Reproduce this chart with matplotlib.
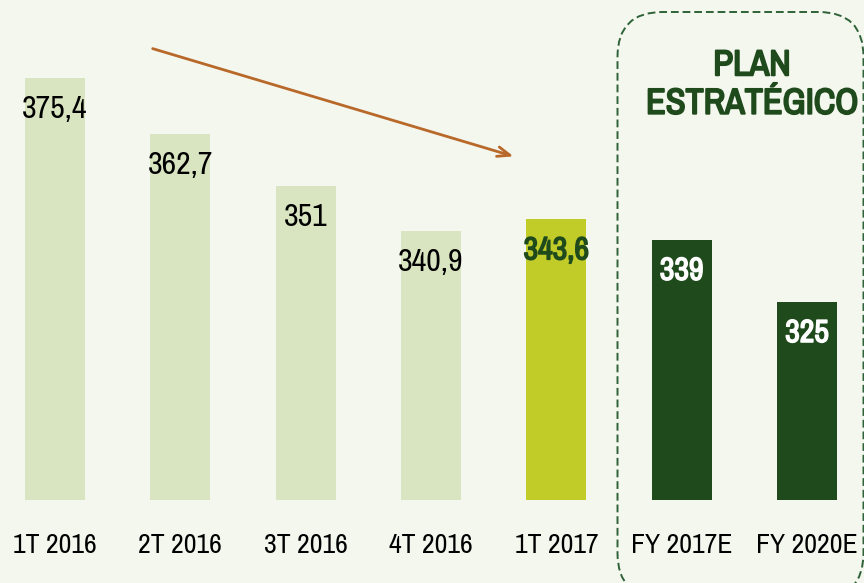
import matplotlib
matplotlib.use("Agg")
import matplotlib.pyplot as plt
import matplotlib.patheffects as pe
from matplotlib.patches import FancyBboxPatch

# data
CATEGORIES = ["1T 2016", "2T 2016", "3T 2016", "4T 2016", "1T 2017", "FY 2017E", "FY 2020E"]
VALUES = [375.4, 362.7, 351, 340.9, 343.6, 339, 325]
BAR_COLORS = ["#D9E5C1", "#D9E5C1", "#D9E5C1", "#D9E5C1", "#C1CC29", "#1F4A1C", "#1F4A1C"]
LABEL_COLORS = ["black", "black", "black", "black", "#1F4A1C", "white", "white"]
LABEL_BOLD = [False, False, False, False, True, True, True]
BOX_TITLE = "PLAN\nESTRATÉGICO"

BG = "#F4F7EE"
DARK = "#1F4A1C"
plt.rcParams["font.family"] = ["Archivo Narrow", "Liberation Sans", "DejaVu Sans"]


def fake_bold(color, w=1.1):
    # Archivo Narrow only ships a regular weight here, so thicken with a stroke
    return [pe.withStroke(linewidth=w, foreground=color)]


fig = plt.figure(figsize=(8.64, 5.83), dpi=100, facecolor=BG)
ax = fig.add_axes([0, 83 / 583, 1, 500 / 583])
ax.set_facecolor(BG)

x = range(len(VALUES))
ax.bar(x, VALUES, width=0.48, color=BAR_COLORS)
ax.set_xlim(-0.439, 6.455)
ax.set_ylim(280.45, 392.96)

for i, v in enumerate(VALUES):
    t = ax.annotate(f"{v:g}".replace(".", ","), (i, v), xytext=(0, -31),
                    textcoords="offset pixels", ha="center", va="center",
                    fontsize=23, color=LABEL_COLORS[i])
    if LABEL_BOLD[i]:
        t.set_path_effects(fake_bold(LABEL_COLORS[i]))

ax.set_xticks(list(x))
ax.set_xticklabels(CATEGORIES, fontsize=20)
ax.tick_params(axis="x", length=0, pad=24)
ax.set_yticks([])
for s in ax.spines.values():
    s.set_visible(False)

# trend arrow
ax.annotate("", xy=(3.68, 357.6), xytext=(0.758, 382.2),
            arrowprops=dict(arrowstyle="->,head_length=0.9,head_width=0.35",
                            color="#B8692A", lw=2))

# dashed rounded box for strategic plan
box = FancyBboxPatch((6.175, -0.15), 2.46, 5.86,
                     boxstyle="round,pad=0,rounding_size=0.45",
                     transform=fig.dpi_scale_trans, fill=False,
                     edgecolor="#2F6238", lw=1.4, linestyle=(0, (4, 2)),
                     clip_on=False)
fig.patches.append(box)
title = fig.text(752 / 864, 1 - 84 / 583, BOX_TITLE, ha="center", va="center",
                 fontsize=26, color=DARK, linespacing=1.2)
title.set_path_effects(fake_bold(DARK, 1.4))

fig.savefig("out.png", dpi=100, facecolor=BG)
